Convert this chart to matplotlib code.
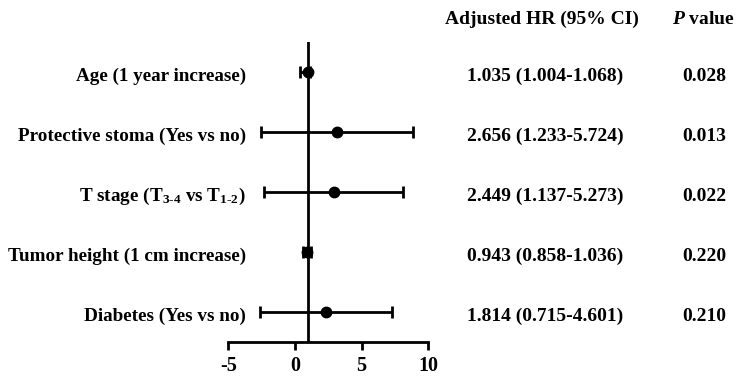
import matplotlib
matplotlib.use("Agg")
import matplotlib.pyplot as plt
import matplotlib.transforms as mtransforms

plt.rcParams['font.family'] = ['Liberation Serif', 'DejaVu Serif']
plt.rcParams['font.weight'] = 'bold'
plt.rcParams['axes.unicode_minus'] = False
plt.rcParams['mathtext.fontset'] = 'custom'
plt.rcParams['mathtext.rm'] = 'Liberation Serif:bold'
plt.rcParams['mathtext.bf'] = 'Liberation Serif:bold'
plt.rcParams['mathtext.it'] = 'Liberation Serif:italic:bold'

# data
labels = ["Age (1 year increase)",
          "Protective stoma (Yes vs no)",
          r"T stage (T$_{3\text{-}4}$ vs T$_{1\text{-}2}$)",
          "Tumor height (1 cm increase)",
          "Diabetes (Yes vs no)"]
point = [1.0, 3.15, 2.93, 0.9, 2.35]
low = [0.37, -2.55, -2.36, 0.57, -2.6]
high = [1.1, 8.82, 8.12, 1.2, 7.3]
hr_text = ["1.035 (1.004-1.068)", "2.656 (1.233-5.724)", "2.449 (1.137-5.273)",
           "0.943 (0.858-1.036)", "1.814 (0.715-4.601)"]
p_text = ["0.028", "0.013", "0.022", "0.220", "0.210"]
xticks = [-5, 0, 5, 10]

ypos = [5, 4, 3, 2, 1]
xerr = [[p - l for p, l in zip(point, low)], [h - p for p, h in zip(point, high)]]

fig = plt.figure(figsize=(7.44, 3.81), dpi=100)
ax = fig.add_axes([0.3069, 0.1031, 0.2688, 0.7874])

# 参考线 x=1
ax.axvline(1, color='black', linewidth=2, zorder=1)
ax.errorbar(point, ypos, xerr=xerr, fmt='o', color='black', markersize=7.5,
            elinewidth=2, capsize=4.5, capthick=2, zorder=3)

ax.set_xlim(-5, 10)
ax.set_ylim(0.5, 5.5)
ax.set_xticks(xticks)
ax.set_yticks([])
for s in ['top', 'right', 'left']:
    ax.spines[s].set_visible(False)
ax.spines['bottom'].set_linewidth(2)
ax.tick_params(axis='x', length=6, width=2, labelsize=14.5, pad=4)
for t in ax.get_xticklabels():
    t.set_fontweight('bold')

fs = 14
trans = mtransforms.blended_transform_factory(fig.transFigure, ax.transData)
for y, lab, hr, p in zip(ypos, labels, hr_text, p_text):
    ax.text(0.3306, y - 0.08, lab, transform=trans, ha='right', va='center',
            fontsize=13.8, fontweight='bold')
    ax.text(0.7325, y - 0.08, hr, transform=trans, ha='center', va='center',
            fontsize=fs, fontweight='bold')
    ax.text(0.946, y - 0.08, p, transform=trans, ha='center', va='center',
            fontsize=fs, fontweight='bold')

ax.text(0.729, 5.87, "Adjusted HR (95% CI)", transform=trans, ha='center',
        va='center', fontsize=fs, fontweight='bold')
ax.text(0.946, 5.87, r"$P$ value", transform=trans, ha='center',
        va='center', fontsize=fs, fontweight='bold')

fig.savefig("out.png", dpi=100)
